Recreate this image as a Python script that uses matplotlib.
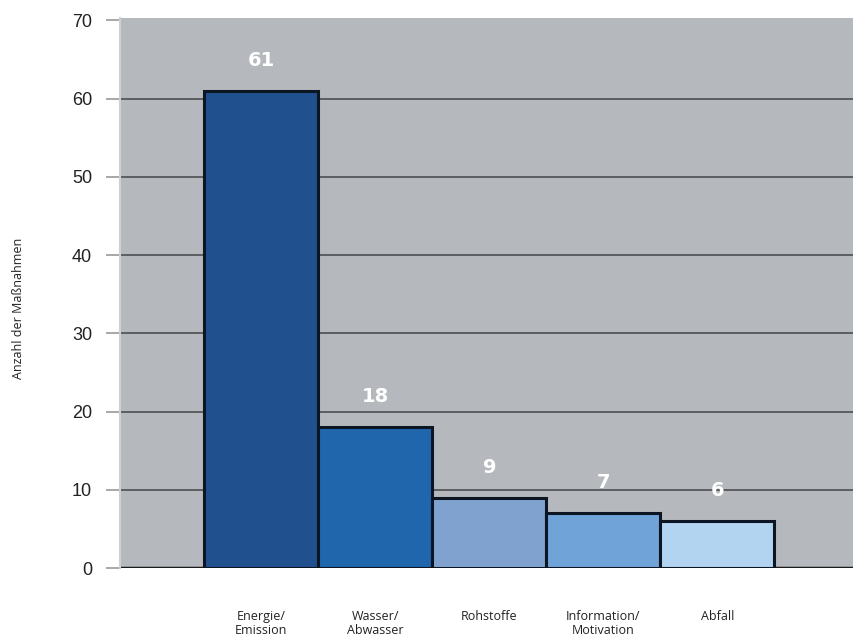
import matplotlib
matplotlib.use("Agg")
import matplotlib.pyplot as plt

categories = ["Energie/\nEmission", "Wasser/\nAbwasser", "Rohstoffe",
              "Information/\nMotivation", "Abfall"]
values = [61, 18, 9, 7, 6]
bar_colors = ["#21508f", "#1f66ad", "#7fa2cf", "#70a3d8", "#b2d4f1"]
yticks = [0, 10, 20, 30, 40, 50, 60, 70]

fig = plt.figure(figsize=(8.54, 6.42), dpi=100)
ax = fig.add_axes([0.1405, 0.115, 0.8595, 0.857])
ax.set_facecolor("#b5b8bd")

x = list(range(len(values)))
ax.bar(x, values, width=1.0, color=bar_colors, edgecolor="#0c1522",
       linewidth=2.2, zorder=3)

for xi, v in zip(x, values):
    ax.annotate(str(v), (xi, v), xytext=(0, 22), textcoords="offset points",
                ha="center", va="center", color="white", fontsize=14,
                fontweight="bold", family="DejaVu Sans", zorder=4)

ax.set_xlim(-1.24, 5.2)
ax.set_ylim(0, 70.3)
ax.set_yticks(yticks)
ax.yaxis.grid(True, color="#5b5d61", linewidth=1.4, zorder=1)
ax.axhline(0, color="#1a1a1a", linewidth=2.5, zorder=2)
ax.set_axisbelow(True)
ax.get_ygridlines()[-1].set_visible(False)

ax.set_xticks(x)
ax.set_xticklabels(categories, family="Open Sans", fontsize=9, color="#222222",
                   linespacing=1.15)
ax.tick_params(axis="x", length=0, pad=30)
ax.tick_params(axis="y", length=10, width=1.2, color="#9a9a9a", pad=10,
               labelsize=13, labelcolor="#222222")
for lbl in ax.get_yticklabels():
    lbl.set_family("Liberation Sans")

for s in ["top", "right", "bottom"]:
    ax.spines[s].set_visible(False)
ax.spines["left"].set_color("#d0d0d0")
ax.spines["left"].set_linewidth(1.5)

fig.text(0.022, 0.52, "Anzahl der Maßnahmen", rotation=90, ha="center",
         va="center", fontsize=9, family="Open Sans", color="#222222")

fig.savefig("out.png", dpi=100)
